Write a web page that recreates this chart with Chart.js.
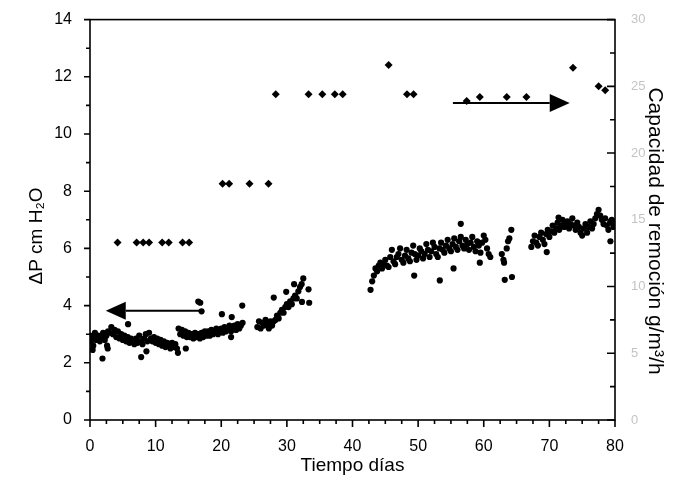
<!DOCTYPE html>
<html>
<head>
<meta charset="utf-8">
<script src="https://cdn.jsdelivr.net/npm/chart.js@4.4.0/dist/chart.umd.min.js"></script>
<style>
    html, body { margin: 0; padding: 0; background: #fff; }
</style>
</head>
<body>
<canvas id="chart" width="678" height="487"></canvas>
<script>
// ΔP (cm H2O) readings, left axis, split into the runs seen in the plot
const runA_days = [0, 0.25, 0.5, 0.75, 1, 1.25, 1.5, 1.75, 2, 2.25, 2.5, 2.75, 3, 3.25, 3.5, 3.75, 4, 4.25, 4.5, 4.75,
    5, 5.25, 5.5, 5.75, 6, 6.25, 6.5, 6.75, 7, 7.25, 7.5, 7.75, 8, 8.25, 8.5, 8.75, 9, 9.25, 9.5, 9.75,
    10, 10.25, 10.5, 10.75, 11, 11.25, 11.5, 11.75, 12, 12.25, 12.5, 12.75, 13, 13.25, 13.5, 13.75, 14, 14.25, 14.5, 14.75,
    15, 15.25, 15.5, 15.75, 16, 16.25, 16.5, 16.75, 17, 17.25, 17.5, 17.75, 18, 18.25, 18.5, 18.75, 19, 19.25, 19.5, 19.75,
    20, 20.25, 20.5, 20.75, 21, 21.25, 21.5, 21.75, 22, 22.25, 22.5, 22.75, 23, 23.25];
const runA_dp = [2.95, 2.75, 2.90, 3.05, 2.80, 2.95, 2.75, 2.90, 3.05, 2.80, 2.95, 3.10, 3.05, 3.25, 3.00, 3.15, 2.90, 3.10, 2.85, 3.00,
    2.80, 2.95, 2.75, 2.90, 2.70, 2.85, 2.80, 2.65, 2.85, 2.70, 2.95, 2.75, 2.65, 2.85, 3.00, 2.75, 3.05, 2.85, 2.75, 2.90,
    2.70, 2.85, 2.65, 2.80, 2.60, 2.75, 2.55, 2.70, 2.65, 2.50, 2.70, 2.55, 2.65, 2.50, 3.20, 3.00, 3.15, 2.95, 3.10, 2.90,
    3.05, 2.90, 3.00, 2.85, 3.05, 2.90, 3.00, 2.85, 3.05, 2.90, 3.10, 2.95, 3.10, 2.95, 3.15, 3.00, 3.10, 3.20, 3.00, 3.15,
    3.20, 3.05, 3.25, 3.10, 3.20, 3.30, 3.10, 3.25, 3.30, 3.15, 3.35, 3.20, 3.30, 3.40];

const runB_days = [25.5, 25.75, 26, 26.25, 26.5, 26.75, 27, 27.25, 27.5, 27.75, 28, 28.25, 28.5, 28.75, 29, 29.25, 29.5, 29.75,
    30, 30.25, 30.5, 30.75, 31, 31.25, 31.5, 31.75, 32, 32.25, 32.5];
const runB_dp = [3.25, 3.45, 3.20, 3.40, 3.30, 3.50, 3.35, 3.20, 3.45, 3.30, 3.45, 3.50, 3.65, 3.55, 3.75, 3.85, 3.75, 3.95,
    4.05, 3.95, 4.15, 4.05, 4.25, 4.35, 4.25, 4.50, 4.65, 4.75, 4.95];

const runC_days = [42.75, 43, 43.25, 43.5, 43.75, 44, 44.25, 44.5, 44.75, 45, 45.25, 45.5, 45.75, 46, 46.25, 46.5, 46.75,
    47, 47.25, 47.5, 47.75, 48, 48.25, 48.5, 48.75, 49, 49.25, 49.5, 49.75, 50, 50.25, 50.5, 50.75,
    51, 51.25, 51.5, 51.75, 52, 52.25, 52.5, 52.75, 53, 53.25, 53.5, 53.75, 54, 54.25, 54.5, 54.75,
    55, 55.25, 55.5, 55.75, 56, 56.25, 56.5, 56.75, 57, 57.25, 57.5, 57.75, 58, 58.25, 58.5, 58.75,
    59, 59.25, 59.5, 59.75, 60, 60.25, 60.5, 60.75, 61];
const runC_dp = [4.55, 4.85, 5.05, 5.30, 5.20, 5.40, 5.50, 5.30, 5.45, 5.60, 5.40, 5.35, 5.70, 5.95, 5.55, 5.45, 5.70,
    5.80, 6.00, 5.60, 5.50, 5.75, 5.95, 5.65, 5.55, 5.85, 6.10, 5.80, 5.60, 5.75, 6.00, 5.90, 5.65,
    5.80, 6.15, 5.95, 5.70, 5.90, 6.20, 6.05, 5.80, 5.70, 6.00, 6.20, 5.95, 5.85, 6.10, 6.30, 6.00,
    5.90, 6.15, 6.35, 6.05, 5.95, 6.25, 6.40, 6.10, 6.00, 6.30, 6.15, 5.95, 6.20, 6.40, 6.05, 5.90,
    6.25, 6.10, 5.85, 6.20, 6.45, 6.30, 6.00, 5.80, 5.70];

const runD_days = [62.75, 63, 63.1, 63.5, 63.7, 63.9, 64.2];
const runD_dp = [5.80, 5.60, 5.50, 6.00, 6.25, 6.35, 6.65];

const runE_days = [67.25, 67.5, 67.75, 68, 68.25, 68.5, 68.75, 69, 69.25, 69.5, 69.75, 70, 70.25, 70.5, 70.75,
    71, 71.25, 71.5, 71.75, 72, 72.25, 72.5, 72.75, 73, 73.25, 73.5, 73.75, 74, 74.25, 74.5, 74.75,
    75, 75.25, 75.5, 75.75, 76, 76.25, 76.5, 76.75, 77, 77.25, 77.5, 77.75, 78, 78.25, 78.5, 78.75,
    79, 79.25, 79.5, 79.75, 80];
const runE_dp = [6.05, 6.25, 6.45, 6.20, 6.10, 6.40, 6.55, 6.30, 6.15, 6.50, 6.65, 6.40, 6.60, 6.80, 6.55,
    6.70, 6.90, 6.65, 6.80, 7.00, 6.75, 6.85, 6.95, 6.70, 6.85, 7.05, 6.80, 6.65, 6.90, 6.75, 6.55,
    6.45, 6.70, 6.85, 6.55, 6.75, 6.95, 6.70, 6.85, 7.05, 7.20, 7.35, 7.15, 7.00, 6.85, 7.05, 6.80,
    6.65, 6.90, 7.00, 6.75, 6.90];

// stray readings away from the main band
const strayDays = [0.4, 0.5, 1.9, 2.6, 2.7, 5.8, 7.8, 8.6, 13.4, 14.6, 16.5, 16.8, 17.0, 20.1, 21.5, 21.6, 23.2,
    28.0, 29.9, 31.1, 32.3, 33.3, 33.4, 49.4, 53.3, 55.4, 56.5, 59.4, 63.2, 64.3, 69.6, 71.4, 79.3];
const strayDp = [2.45, 2.60, 2.15, 2.60, 2.50, 3.35, 2.20, 2.40, 2.35, 2.50, 4.14, 4.10, 3.80, 3.70, 2.90, 3.60, 4.00,
    4.28, 4.48, 4.75, 4.13, 4.57, 4.10, 5.05, 4.88, 5.30, 6.86, 5.50, 4.90, 5.00, 5.87, 7.08, 6.25];

// removal capacity (g/m3/h), right axis
const capDays = [4.2, 7.1, 8.1, 9.0, 11.0, 12.0, 14.1, 15.1, 20.2, 21.2, 24.3, 27.2, 28.3, 33.3, 35.4, 37.3, 38.5,
    45.5, 48.3, 49.3, 57.4, 59.4, 63.5, 66.5, 73.6, 77.5, 78.5];
const capValues = [13.3, 13.3, 13.3, 13.3, 13.3, 13.3, 13.3, 13.3, 17.7, 17.7, 17.7, 17.7, 24.4, 24.4, 24.4, 24.4, 24.4,
    26.6, 24.4, 24.4, 23.9, 24.2, 24.2, 24.2, 26.4, 25.0, 24.7];

const xTicks = [0, 10, 20, 30, 40, 50, 60, 70, 80];
const yLeftTicks = [0, 2, 4, 6, 8, 10, 12, 14];
const yRightTicks = [0, 5, 10, 15, 20, 25, 30];

// arrows telling which series belongs to which axis (left-axis units)
const arrowLeft = { from: [17.2, 3.82], to: [2.4, 3.82] };
const arrowRight = { from: [55.3, 11.08], to: [73.1, 11.08] };

function toPoints(days, values) {
    return days.map((d, i) => ({ x: d, y: values[i] }));
}

const pressurePoints = []
    .concat(toPoints(runA_days, runA_dp))
    .concat(toPoints(runB_days, runB_dp))
    .concat(toPoints(runC_days, runC_dp))
    .concat(toPoints(runD_days, runD_dp))
    .concat(toPoints(runE_days, runE_dp))
    .concat(toPoints(strayDays, strayDp));

const FONT = "'Liberation Sans', Arial, sans-serif";

function drawArrow(ctx, chart, arrow) {
    const xs = chart.scales.x, ys = chart.scales.y;
    const x1 = xs.getPixelForValue(arrow.from[0]), y1 = ys.getPixelForValue(arrow.from[1]);
    const x2 = xs.getPixelForValue(arrow.to[0]), y2 = ys.getPixelForValue(arrow.to[1]);
    const dir = Math.sign(x2 - x1);
    const headLen = 20, halfW = 9;

    ctx.beginPath();
    ctx.moveTo(x1, y1);
    ctx.lineTo(x2 - dir * headLen, y2);
    ctx.stroke();

    ctx.beginPath();
    ctx.moveTo(x2, y2);
    ctx.lineTo(x2 - dir * headLen, y2 - halfW);
    ctx.lineTo(x2 - dir * headLen, y2 + halfW);
    ctx.closePath();
    ctx.fill();
}

// vertical axis titles sit a bit below the axis middle in the original, so draw them here
function drawSideTitle(ctx, text, cx, cy, angle, size) {
    ctx.save();
    ctx.translate(cx, cy);
    ctx.rotate(angle);
    ctx.font = size + 'px ' + FONT;
    ctx.fillStyle = '#000';
    ctx.textAlign = 'center';
    ctx.textBaseline = 'middle';
    ctx.fillText(text, 0, 0);
    ctx.restore();
}

// frame, tick marks (major + minor), arrows and side titles
const framePlugin = {
    id: 'frame',
    afterDraw(chart) {
        const ctx = chart.ctx;
        const { x, y, y2 } = chart.scales;
        const a = chart.chartArea;
        ctx.save();
        ctx.strokeStyle = '#000';
        ctx.fillStyle = '#000';
        ctx.lineWidth = 1.6;

        ctx.strokeRect(a.left, a.top, a.right - a.left, a.bottom - a.top);

        ctx.beginPath();
        for (let d = 0; d <= 80; d += 2.5) {
            const px = x.getPixelForValue(d);
            const len = d % 10 === 0 ? 7 : 4;
            ctx.moveTo(px, a.bottom);
            ctx.lineTo(px, a.bottom + len);
        }
        for (let v = 0; v <= 14; v += 1) {
            const py = y.getPixelForValue(v);
            const len = v % 2 === 0 ? 6 : 4;
            ctx.moveTo(a.left, py);
            ctx.lineTo(a.left - len, py);
        }
        for (let v = 0; v <= 30; v += 2.5) {
            const py = y2.getPixelForValue(v);
            const len = v % 5 === 0 ? 8 : 5;
            ctx.moveTo(a.right, py);
            ctx.lineTo(a.right - len, py);
        }
        ctx.stroke();

        ctx.lineWidth = 2;
        drawArrow(ctx, chart, arrowLeft);
        drawArrow(ctx, chart, arrowRight);
        ctx.restore();

        drawSideTitle(ctx, 'ΔP cm H₂O', 37, 236, -Math.PI / 2, 19);
        drawSideTitle(ctx, 'Capacidad de remoción g/m³/h', 655, 231, Math.PI / 2, 21);
    }
};

const chart = new Chart(document.getElementById('chart'), {
    type: 'scatter',
    data: {
        datasets: [
            {
                label: 'ΔP',
                data: pressurePoints,
                yAxisID: 'y',
                backgroundColor: '#000',
                borderColor: '#000',
                pointRadius: 3.1,
                pointBorderWidth: 0
            },
            {
                label: 'Capacidad de remoción',
                data: toPoints(capDays, capValues),
                yAxisID: 'y2',
                pointStyle: 'rectRot',
                backgroundColor: '#000',
                borderColor: '#000',
                pointRadius: 4,
                pointBorderWidth: 0
            }
        ]
    },
    options: {
        responsive: false,
        animation: false,
        events: [],
        layout: { padding: { top: 17, left: 0, right: 0, bottom: 0 } },
        plugins: {
            legend: { display: false },
            tooltip: { enabled: false }
        },
        scales: {
            x: {
                type: 'linear',
                min: 0,
                max: 80,
                afterFit: s => { s.height = 67; },
                afterBuildTicks: s => { s.ticks = xTicks.map(v => ({ value: v })); },
                grid: { display: false },
                border: { display: false },
                ticks: { color: '#000', padding: 9, font: { family: FONT, size: 16 } },
                title: {
                    display: true,
                    text: 'Tiempo días',
                    color: '#000',
                    font: { family: FONT, size: 19 },
                    padding: { top: 0, bottom: 10 }
                }
            },
            y: {
                type: 'linear',
                position: 'left',
                min: 0,
                max: 14,
                afterFit: s => { s.width = 90; },
                afterBuildTicks: s => { s.ticks = yLeftTicks.map(v => ({ value: v })); },
                grid: { display: false },
                border: { display: false },
                ticks: { color: '#000', padding: 10, font: { family: FONT, size: 16 } }
            },
            y2: {
                type: 'linear',
                position: 'right',
                min: 0,
                max: 30,
                afterFit: s => { s.width = 63; },
                afterBuildTicks: s => { s.ticks = yRightTicks.map(v => ({ value: v })); },
                grid: { display: false },
                border: { display: false },
                ticks: { color: '#c4c4c4', padding: 8, font: { family: FONT, size: 13 } }
            }
        }
    },
    plugins: [framePlugin]
});
</script>
</body>
</html>
